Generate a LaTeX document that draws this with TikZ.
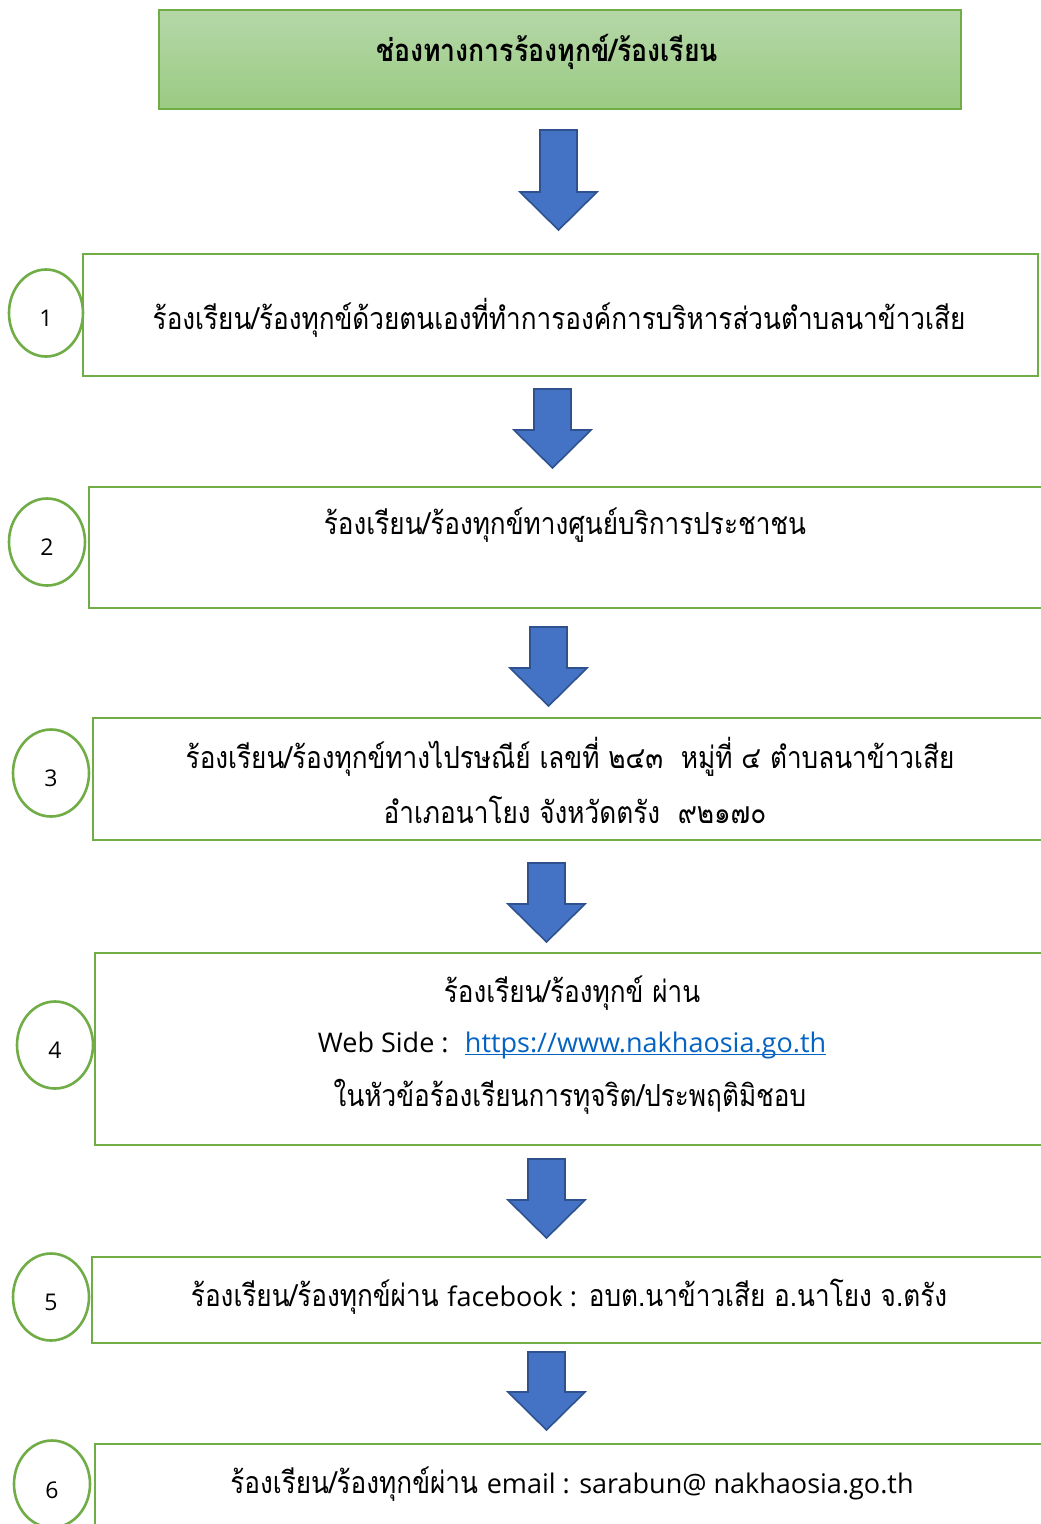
\documentclass[tikz,border=0pt]{standalone}
\usepackage{fontspec}
\usetikzlibrary{shapes.geometric}
\newfontfamily\thf[Script=Thai,FakeStretch=0.86]{Loma}
\newfontfamily\laf{Open Sans}
\definecolor{gbd}{HTML}{70AD47}
\definecolor{gtop}{HTML}{B5D7A8}
\definecolor{gbot}{HTML}{9BCB83}
\definecolor{afill}{HTML}{4472C4}
\definecolor{abd}{HTML}{2F528F}
\definecolor{lnk}{HTML}{0563C1}
\newcommand{\lat}{\laf\fontsize{27}{32}\selectfont}
\newcommand{\ulink}[1]{\leavevmode\rlap{\rule[-3.2pt]{\widthof{#1}}{1.5pt}}#1}
\tikzset{
  x=1pt,y=-1pt,
  stepbox/.style={draw=gbd,line width=2.6pt,fill=white},
  numcirc/.style={draw=gbd,line width=2.6pt,ellipse,fill=white},
  lbl/.style={font=\thf\fontsize{30.4}{34}\selectfont,align=center,inner sep=0pt},
  numtxt/.style={font=\laf\fontsize{23}{26}\selectfont,inner sep=0pt},
  blockarrow/.style={fill=afill,draw=abd,line width=1.6pt,line join=miter},
}
\usepackage{calc}
\newcommand{\downarr}[4]{% name, left x, top y, bottom y
  \draw[blockarrow] (#2+20,#3) -- (#2+57,#3) -- (#2+57,#4-38) -- (#2+77,#4-38) -- (#2+38.5,#4) -- (#2,#4-38) -- (#2+20,#4-38) -- cycle;
  \coordinate (#1) at (#2+38.5,#3);}
\begin{document}
\begin{tikzpicture}
\useasboundingbox (0,0) rectangle (1041,1524);
\clip (0,0) rectangle (1041,1524);
\fill[white] (0,0) rectangle (1041,1524);
% title
\shade[top color=gtop,bottom color=gbot,draw=gbd,line width=1.4pt] (159,10) rectangle (961,109);
\node[lbl,font=\thf\bfseries\fontsize{31}{34}\selectfont] (title) at (547,52) {ช่องทางการร้องทุกข์/ร้องเรียน};
% arrows
\downarr{a1}{520}{130}{230}
\downarr{a2}{514}{389}{468}
\downarr{a3}{510}{627}{706}
\downarr{a4}{508}{863}{942}
\downarr{a5}{508}{1159}{1238}
\downarr{a6}{508}{1352}{1430}
% boxes
\draw[stepbox] (83,254) rectangle (1038,376);
\draw[stepbox] (89,487) rectangle (1060,608);
\draw[stepbox] (93,718) rectangle (1060,840);
\draw[stepbox] (95,953) rectangle (1060,1145);
\draw[stepbox] (92,1257) rectangle (1060,1343);
\draw[stepbox] (95,1444) rectangle (1060,1560);
% circles
\node[numcirc,minimum width=74pt,minimum height=87pt] (c1) at (46,313) {};
\node[numcirc,minimum width=76pt,minimum height=87pt] (c2) at (47,542) {};
\node[numcirc,minimum width=76pt,minimum height=87pt] (c3) at (51,773) {};
\node[numcirc,minimum width=76pt,minimum height=87pt] (c4) at (55,1045) {};
\node[numcirc,minimum width=76pt,minimum height=87pt] (c5) at (51,1297) {};
\node[numcirc,minimum width=76pt,minimum height=87pt] (c6) at (52,1484) {};
\node[numtxt] at (46,318) {1};
\node[numtxt] at (47,547) {2};
\node[numtxt] at (51,778) {3};
\node[numtxt] at (55,1050) {4};
\node[numtxt] at (51,1302) {5};
\node[numtxt] at (52,1490) {6};
% texts
\node[lbl] (t1) at (559,318) {ร้องเรียน/ร้องทุกข์ด้วยตนเองที่ทำการองค์การบริหารส่วนตำบลนาข้าวเสีย};
\node[lbl] (t2) at (565,525) {ร้องเรียน/ร้องทุกข์ทางศูนย์บริการประชาชน};
\node[lbl] (t3a) at (570,757) {ร้องเรียน/ร้องทุกข์ทางไปรษณีย์ เลขที่ ๒๔๓ \ หมู่ที่ ๔ ตำบลนาข้าวเสีย};
\node[lbl] (t3b) at (575,810) {อำเภอนาโยง จังหวัดตรัง \ ๙๒๑๗๐};
\node[lbl] (t4a) at (572,993) {ร้องเรียน/ร้องทุกข์ ผ่าน};
\node[lbl] (t4b) at (572,1045) {{\lat Web Side : \ \textcolor{lnk}{\ulink{https://www.nakhaosia.go.th}}}};
\node[lbl] (t4c) at (570,1097) {ในหัวข้อร้องเรียนการทุจริต/ประพฤติมิชอบ};
\node[lbl] (t5) at (569,1297) {ร้องเรียน/ร้องทุกข์ผ่าน {\lat facebook :} อบต.นาข้าวเสีย อ.นาโยง จ.ตรัง};
\node[lbl] (t6) at (572,1484) {ร้องเรียน/ร้องทุกข์ผ่าน {\lat email : sarabun@ nakhaosia.go.th}};
\end{tikzpicture}
\end{document}
